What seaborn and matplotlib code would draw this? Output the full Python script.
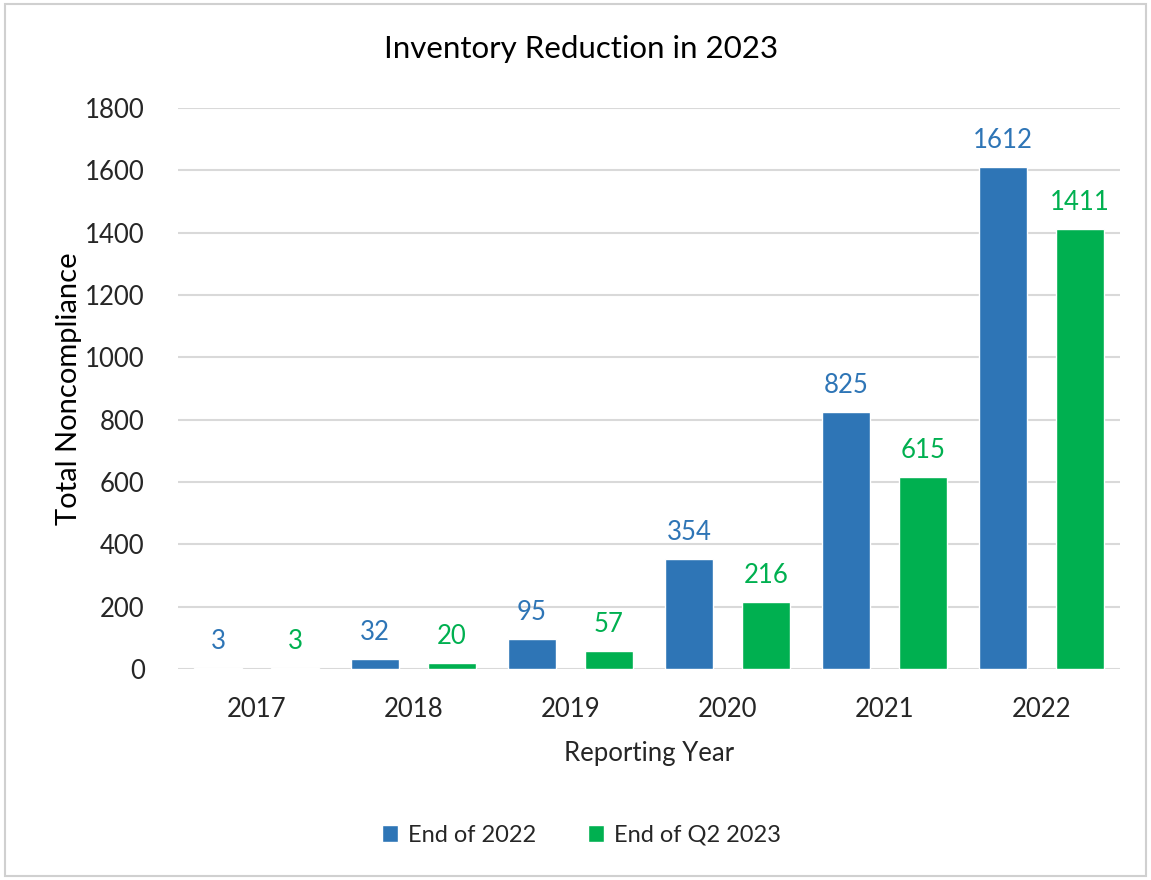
import matplotlib
matplotlib.use('Agg')
import matplotlib.pyplot as plt
import seaborn as sns
import pandas as pd
from matplotlib.patches import Rectangle

# データ
years = ['2017', '2018', '2019', '2020', '2021', '2022']
end_2022 = [3, 32, 95, 354, 825, 1612]
end_q2_2023 = [3, 20, 57, 216, 615, 1411]
series_names = ['End of 2022', 'End of Q2 2023']
colors = ['#2E75B6', '#00B050']
label_colors = ['#2E75B6', '#00B050']

df = pd.DataFrame({
	'year': years * 2,
	'value': end_2022 + end_q2_2023,
	'series': [series_names[0]] * len(years) + [series_names[1]] * len(years),
})

sns.set_theme(style='white')
plt.rcParams['font.family'] = ['Lato', 'DejaVu Sans']

fig = plt.figure(figsize=(11.51, 8.80), dpi=100)
ax = fig.add_axes([0.1547, 0.2398, 0.973 - 0.1547, 0.8773 - 0.2398])

sns.barplot(data=df, x='year', y='value', hue='series', palette=colors,
	width=0.98, gap=0.38, saturation=1, ax=ax, legend=True)

ax.set_ylim(0, 1800)
ax.set_yticks(range(0, 1801, 200))
ax.yaxis.grid(True, color='#D9D9D9', linewidth=1.5)
ax.set_axisbelow(True)
for s in ax.spines.values():
	s.set_visible(False)
ax.tick_params(axis='both', length=0, labelsize=18.5, colors='#262626')
ax.tick_params(axis='x', pad=20)
ax.tick_params(axis='y', pad=24)

# データラベル
for i, cont in enumerate(ax.containers):
	ax.bar_label(cont, padding=10, color=label_colors[i], fontsize=18.5)

ax.set_xlabel('Reporting Year', fontsize=18.5, color='#262626', labelpad=14)
ax.set_ylabel('Total Noncompliance', fontsize=21, color='#000000', labelpad=2)
fig.text(0.505, 0.944, 'Inventory Reduction in 2023', ha='center', va='center', fontsize=22.5, color='#000000')

leg = ax.legend(loc='center', bbox_to_anchor=(0.505, 0.051), bbox_transform=fig.transFigure,
	ncol=2, frameon=False, fontsize=17, handlelength=0.7, handleheight=0.7,
	handletextpad=0.4, columnspacing=2.2)
for t in leg.get_texts():
	t.set_color('#262626')

fig.patches.append(Rectangle((0.004, 0.004), 0.992, 0.992, transform=fig.transFigure,
	fill=False, edgecolor='#D0D0D0', linewidth=1.5))

fig.savefig('out.png', dpi=100)
